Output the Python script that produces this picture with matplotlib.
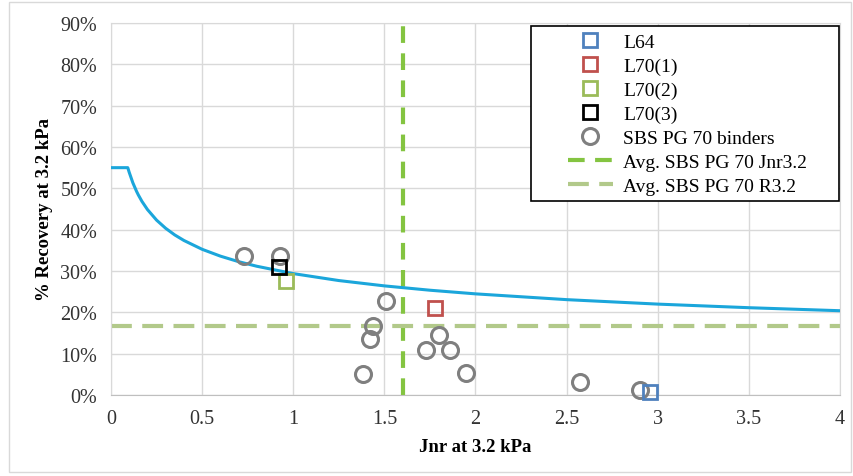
import matplotlib
matplotlib.use("Agg")
import matplotlib.pyplot as plt
from matplotlib.patches import Rectangle

plt.rcParams['font.family'] = ['Liberation Serif', 'DejaVu Serif']

### DATA ###
# SBS PG 70 binders (Jnr, %R)
sbs_jnr = [0.73, 0.93, 1.51, 1.435, 1.42, 1.38, 1.73, 1.80, 1.86, 1.95, 2.575, 2.90]
sbs_rec = [33.6, 33.6, 22.8, 16.8, 13.6, 5.1, 11.0, 14.4, 10.9, 5.3, 3.1, 1.2]

# lab binders
samples = ['L64', 'L70(1)', 'L70(2)', 'L70(3)']
samp_jnr = [2.96, 1.78, 0.96, 0.92]
samp_rec = [0.8, 21.1, 27.5, 30.9]
samp_col = ['#4F81BD', '#C0504D', '#9BBB59', '#000000']

# reference curve
curve_jnr = [0, 0.092, 0.1, 0.12, 0.14, 0.15, 0.17, 0.2, 0.25, 0.3, 0.35, 0.4, 0.5,
             0.6, 0.7, 0.8, 1.0, 1.25, 1.5, 1.75, 2.0, 2.5, 3.0, 3.5, 4.0]
curve_rec = [55, 55, 53.86, 51.33, 49.29, 48.40, 46.83, 44.87, 42.31, 40.33, 38.72, 37.39, 35.25,
             33.60, 32.26, 31.15, 29.37, 27.69, 26.40, 25.35, 24.47, 23.07, 21.99, 21.12, 20.39]

avg_jnr = 1.6
avg_rec = 16.8

xticks = [0, 0.5, 1, 1.5, 2, 2.5, 3, 3.5, 4]
xtick_labels = ['0', '0.5', '1', '1.5', '2', '2.5', '3', '3.5', '4']
yticks = [0, 10, 20, 30, 40, 50, 60, 70, 80, 90]

### PLOT ###
fig = plt.figure(figsize=(8.54, 4.77), dpi=100)
ax = fig.add_axes([111/854, 1 - 396/477, 729/854, 372/477])

fig.patches.append(Rectangle((9/854, 4/477), 842/854, 470/477, transform=fig.transFigure,
                             fill=False, edgecolor='#D9D9D9', linewidth=1))

ax.plot(curve_jnr, curve_rec, color='#1BA6DB', lw=2.2, zorder=3)

for name, xj, yr, c in zip(samples, samp_jnr, samp_rec, samp_col):
    ax.plot([xj], [yr], ls='none', marker='s', markersize=9.5, markerfacecolor='none',
            markeredgecolor=c, markeredgewidth=2, label=name, zorder=5, clip_on=False)

ax.plot(sbs_jnr, sbs_rec, ls='none', marker='o', markersize=11.5, markerfacecolor='none',
        markeredgecolor='#7F7F7F', markeredgewidth=2.2, label='SBS PG 70 binders', zorder=4,
        clip_on=False)

ax.axvline(avg_jnr, color='#84C441', lw=3, ls=(0, (4, 2.5)), label='Avg. SBS PG 70 Jnr3.2', zorder=2)
ax.axhline(avg_rec, color='#B2C98A', lw=3, ls=(0, (5, 2.5)), label='Avg. SBS PG 70 R3.2', zorder=2)

ax.set_xlim(0, 4)
ax.set_ylim(0, 90)
ax.set_xticks(xticks)
ax.set_xticklabels(xtick_labels)
ax.set_yticks(yticks)
ax.set_yticklabels([f'{v}%' for v in yticks])
ax.tick_params(length=0, labelsize=14.5, pad=10, colors='#333333')
ax.tick_params(axis='x', pad=10)
ax.grid(True, color='#D9D9D9', lw=1)
ax.set_axisbelow(True)
for s in ax.spines.values():
    s.set_color('#D9D9D9')
ax.spines['bottom'].set_color('#BFBFBF')

ax.set_xlabel('Jnr at 3.2 kPa', fontsize=13.5, fontweight='bold', labelpad=7)
ax.set_ylabel('% Recovery at 3.2 kPa', fontsize=13.5, fontweight='bold', labelpad=5)

# legend box drawn separately (Excel style fixed-size frame)
ax.add_patch(Rectangle((531/854, 1 - 202/477), 308/854, 175/477, transform=fig.transFigure,
                       facecolor='white', edgecolor='black', linewidth=1.2, zorder=6))
leg = ax.legend(loc='upper left', bbox_to_anchor=(568/854, 1 - 34/477),
                bbox_transform=fig.transFigure, fontsize=14, frameon=False,
                handlelength=2.3, labelspacing=0.33, borderpad=0, handletextpad=0.55,
                borderaxespad=0)
leg.set_zorder(7)

fig.savefig('out.png', dpi=100)
